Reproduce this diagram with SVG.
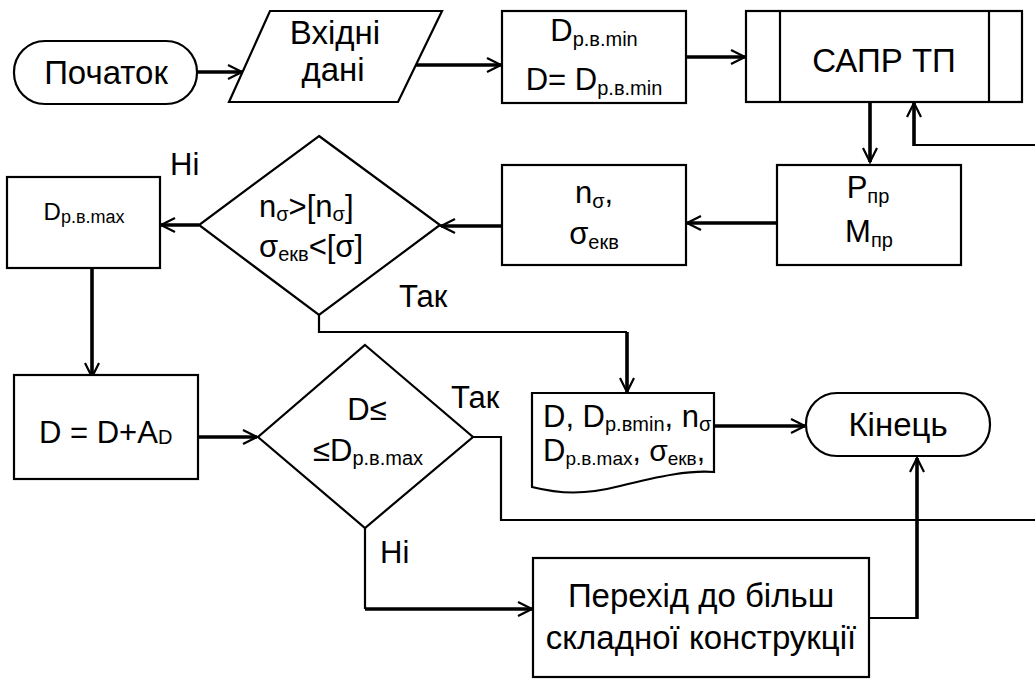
<svg xmlns="http://www.w3.org/2000/svg" width="1035" height="679" viewBox="0 0 1035 679">
  <style>
    .shape { fill: #fff; stroke: #000; stroke-width: 2.2; }
    .t { font-family: 'Liberation Sans', Arial, sans-serif; fill: #000; }
    .big { font-size: 33px; }
    .mid { font-size: 31px; }
    .sub { font-size: 20px; }
    .c { text-anchor: middle; }
    .wire { fill: none; stroke: #000; stroke-width: 2.2; }
    .bold { fill: none; stroke: #000; stroke-width: 3.6; }
  </style>
  <defs>
    <marker id="arr" markerUnits="userSpaceOnUse" markerWidth="16" markerHeight="16" refX="14" refY="7" orient="auto" overflow="visible">
      <path d="M0,0 L14,7 L0,14" fill="none" stroke="#000" stroke-width="2.2"/>
    </marker>
  </defs>

  <!-- connectors -->
  <g id="connectors">
    <path class="bold" d="M197,72 H242" marker-end="url(#arr)"/>
    <path class="bold" d="M415,65 H501" marker-end="url(#arr)"/>
    <path class="bold" d="M686,57 H745" marker-end="url(#arr)"/>
    <path class="bold" d="M870,102 V162" marker-end="url(#arr)"/>
    <path class="wire" d="M1035,145 H914"/>
    <path class="bold" d="M914,146 V103" marker-end="url(#arr)"/>
    <path class="bold" d="M777,223 H687" marker-end="url(#arr)"/>
    <path class="bold" d="M502,226 H441" marker-end="url(#arr)"/>
    <path class="bold" d="M199,225 H161" marker-end="url(#arr)"/>
    <path class="bold" d="M92,268 V377" marker-end="url(#arr)"/>
    <path class="wire" d="M319,315 V332 H627"/>
    <path class="bold" d="M627,332 V392" marker-end="url(#arr)"/>
    <path class="bold" d="M714,426 H805" marker-end="url(#arr)"/>
    <path class="bold" d="M198,437 H257" marker-end="url(#arr)"/>
    <path class="wire" d="M473,437 H501 V520 H1035"/>
    <path class="wire" d="M365,528 V609"/>
    <path class="bold" d="M365,609 H532" marker-end="url(#arr)"/>
    <path class="wire" d="M869,618 H917"/>
    <path class="bold" d="M917,619 V458" marker-end="url(#arr)"/>
  </g>

  <!-- start terminator -->
  <g id="start">
    <rect class="shape" x="14" y="41" width="183" height="63" rx="31" ry="31"/>
    <text class="t big c" x="106" y="84">Початок</text>
  </g>

  <!-- input data -->
  <g id="input">
    <polygon class="shape" points="270,11 442,11 398,102 229,102"/>
    <text class="t big c" x="335" y="44">Вхідні</text>
    <text class="t big c" x="333" y="81">дані</text>
  </g>

  <!-- initial diameter -->
  <g id="init">
    <rect class="shape" x="502" y="11" width="184" height="92"/>
    <text class="t c" x="594" y="41"><tspan class="mid">D</tspan><tspan class="sub" dy="5">р.в.min</tspan></text>
    <text class="t c" x="594" y="90"><tspan class="mid">D= D</tspan><tspan class="sub" dy="5">р.в.min</tspan></text>
  </g>

  <!-- CAD subroutine -->
  <g id="cad">
    <rect class="shape" x="746" y="11" width="276" height="91"/>
    <line class="wire" x1="780" y1="11" x2="780" y2="102"/>
    <line class="wire" x1="989" y1="11" x2="989" y2="102"/>
    <text class="t big c" x="884" y="72">САПР ТП</text>
  </g>

  <!-- forces -->
  <g id="forces">
    <rect class="shape" x="777" y="165" width="184" height="100"/>
    <text class="t c" x="868" y="198"><tspan class="mid">P</tspan><tspan class="sub" dy="5">пр</tspan></text>
    <text class="t c" x="869" y="242"><tspan class="mid">M</tspan><tspan class="sub" dy="5">пр</tspan></text>
  </g>

  <!-- safety factor and stress -->
  <g id="calc">
    <rect class="shape" x="502" y="165" width="184" height="100"/>
    <text class="t c" x="594" y="203"><tspan class="mid">n</tspan><tspan class="sub" dy="5">σ</tspan><tspan class="mid" dy="-5">,</tspan></text>
    <text class="t c" x="594" y="244"><tspan class="mid">σ</tspan><tspan class="sub" dy="5">екв</tspan></text>
  </g>

  <!-- strength check -->
  <g id="check1">
    <polygon class="shape" points="319,136 440,225 319,315 199,225"/>
    <text class="t" x="259" y="217"><tspan class="mid">n</tspan><tspan class="sub" dy="4">σ</tspan><tspan class="mid" dy="-4">&gt;[n</tspan><tspan class="sub" dy="4">σ</tspan><tspan class="mid" dy="-4">]</tspan></text>
    <text class="t" x="259" y="257"><tspan class="mid">σ</tspan><tspan class="sub" dy="4">екв</tspan><tspan class="mid" dy="-4">&lt;[σ]</tspan></text>
    <text class="t mid" x="170" y="175">Ні</text>
    <text class="t mid" x="399" y="307">Так</text>
  </g>

  <!-- max diameter -->
  <g id="dmax">
    <rect class="shape" x="7" y="177" width="153" height="91"/>
    <text class="t c" x="84" y="220"><tspan style="font-size:24px">D</tspan><tspan style="font-size:18px" dy="3">р.в.max</tspan></text>
  </g>

  <!-- increment -->
  <g id="increment">
    <rect class="shape" x="14" y="375" width="184" height="104"/>
    <text class="t" x="39" y="443"><tspan class="mid">D = D+A</tspan><tspan class="sub" dy="1">D</tspan></text>
  </g>

  <!-- diameter limit check -->
  <g id="check2">
    <polygon class="shape" points="365,345 473,437 365,528 258,437"/>
    <text class="t mid c" x="367" y="420">D≤</text>
    <text class="t" x="313" y="461"><tspan class="mid">≤D</tspan><tspan class="sub" dy="4">р.в.max</tspan></text>
    <text class="t mid" x="451" y="408">Так</text>
    <text class="t mid" x="380" y="563">Ні</text>
  </g>

  <!-- results document -->
  <g id="output">
    <path class="shape" d="M532,393 H714 V472 C690,470 660,476 620,486 C585,495 560,494 532,487 Z"/>
    <text class="t" x="543" y="427"><tspan class="mid">D, D</tspan><tspan class="sub" dy="4">р.вmin</tspan><tspan class="mid" dy="-4">, n</tspan><tspan class="sub" dy="4">σ</tspan></text>
    <text class="t" x="543" y="461"><tspan class="mid">D</tspan><tspan class="sub" dy="4" style="font-size:19px">р.в.max</tspan><tspan class="mid" dy="-4" style="font-size:30px">, σ</tspan><tspan class="sub" dy="4" style="font-size:19px">екв</tspan><tspan class="mid" dy="-4" style="font-size:30px">,</tspan></text>
  </g>

  <!-- end terminator -->
  <g id="end">
    <rect class="shape" x="806" y="393" width="184" height="63" rx="31" ry="31"/>
    <text class="t big c" x="898" y="436">Кінець</text>
  </g>

  <!-- fallback design -->
  <g id="fallback">
    <rect class="shape" x="533" y="558" width="336" height="119"/>
    <text class="t big c" x="701" y="607">Перехід до більш</text>
    <text class="t big c" x="701" y="649">складної конструкції</text>
  </g>
</svg>
